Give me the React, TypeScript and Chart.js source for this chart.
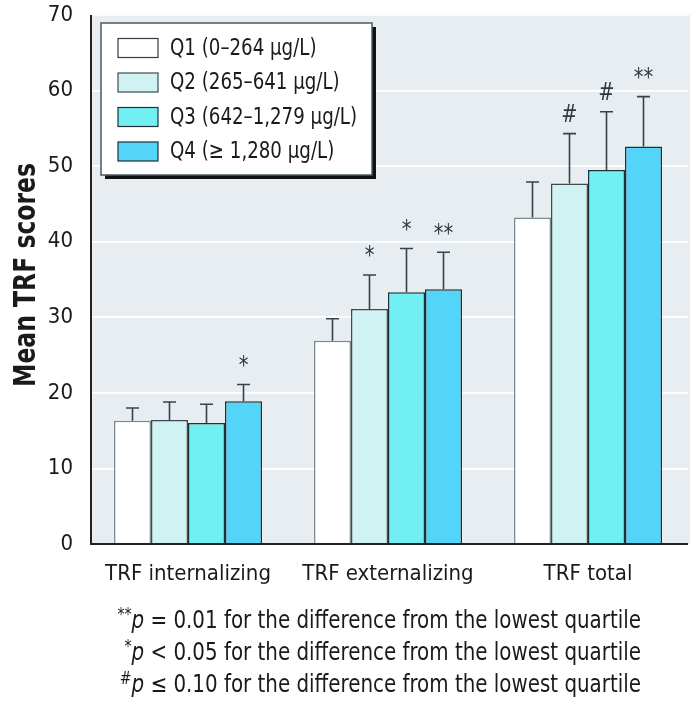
import { useEffect, useRef } from 'react';
import { Chart, registerables } from 'chart.js';

Chart.register(...registerables);

const categories = ['TRF internalizing', 'TRF externalizing', 'TRF total'];
const seriesLabels = ['Q1 (0–264 µg/L)', 'Q2 (265–641 µg/L)', 'Q3 (642–1,279 µg/L)', 'Q4 (≥ 1,280 µg/L)'];
const q1Means = [16.3, 26.9, 43.2];
const q2Means = [16.4, 31.1, 47.7];
const q3Means = [16.0, 33.3, 49.5];
const q4Means = [18.9, 33.7, 52.6];
const q1Upper = [18.0, 29.8, 47.9];
const q2Upper = [18.8, 35.6, 54.3];
const q3Upper = [18.5, 39.1, 57.2];
const q4Upper = [21.1, 38.6, 59.2];
const q1Marks = ['', '', ''];
const q2Marks = ['', '*', '#'];
const q3Marks = ['', '*', '#'];
const q4Marks = ['*', '**', '**'];
const yMin = 0;
const yMax = 70;
const yStep = 10;
const yTitle = 'Mean TRF scores';
const footSup = ['**', '*', '#'];
const footRel = [' = 0.01', ' < 0.05', ' ≤ 0.10'];
const footTail = ' for the difference from the lowest quartile';

const FONT = "'Liberation Sans Narrow', 'DejaVu Sans Condensed', 'Arial Narrow', sans-serif";
const fills = ['#ffffff', '#d0f2f2', '#72eff2', '#52d5f8'];
const borders = ['#7d8b90', '#3c4c52', '#1f3037', '#1f3037'];
const BG = '#e8edf1';
const INK = '#1a1a1a';

function squeezeText(ctx: CanvasRenderingContext2D, text: string, x: number, y: number, font: string, sx: number, align: CanvasTextAlign) {
  ctx.save();
  ctx.font = font;
  ctx.textAlign = align;
  ctx.textBaseline = 'middle';
  ctx.translate(x, y);
  ctx.scale(sx, 1);
  ctx.fillText(text, 0, 0);
  ctx.restore();
}

export default function App() {
  const ref = useRef<HTMLCanvasElement | null>(null);
  useEffect(() => {
    const canvas = ref.current;
    if (!canvas) return;
    const means = [q1Means, q2Means, q3Means, q4Means];
    const uppers = [q1Upper, q2Upper, q3Upper, q4Upper];
    const marks = [q1Marks, q2Marks, q3Marks, q4Marks];

    const plugin = {
      id: 'custom',
      beforeDraw(chart: any) {
        const { ctx, chartArea } = chart;
        ctx.save();
        ctx.fillStyle = BG;
        ctx.fillRect(91, chartArea.top, 690 - 91, chartArea.bottom - chartArea.top);
        ctx.restore();
      },
      afterDatasetsDraw(chart: any) {
        const { ctx } = chart;
        const ys = chart.scales.y;
        ctx.save();
        for (let i = 0; i < 4; i++) {
          const meta = chart.getDatasetMeta(i);
          meta.data.forEach((bar: any, j: number) => {
            const x = bar.x;
            const yb = bar.y;
            const yt = ys.getPixelForValue(uppers[i][j]);
            ctx.strokeStyle = '#34444a';
            ctx.lineWidth = 1.6;
            ctx.beginPath();
            ctx.moveTo(x, yb);
            ctx.lineTo(x, yt);
            ctx.moveTo(x - 6.5, yt);
            ctx.lineTo(x + 6.5, yt);
            ctx.stroke();
            const m = marks[i][j];
            if (m) {
              ctx.fillStyle = '#2a3a40';
              squeezeText(ctx, m, x, yt - 18, `24px ${FONT}`, 0.9, 'center');
            }
          });
        }
        const { chartArea } = chart;
        ctx.strokeStyle = '#222';
        ctx.lineWidth = 2;
        ctx.beginPath();
        ctx.moveTo(91, chartArea.top);
        ctx.lineTo(91, chartArea.bottom);
        ctx.lineTo(688, chartArea.bottom);
        ctx.stroke();
        ctx.restore();
      },
      afterDraw(chart: any) {
        const { ctx } = chart;
        ctx.save();
        // legend
        const bx = 101, by = 23, bw = 271, bh = 152;
        ctx.fillStyle = '#111';
        ctx.fillRect(bx + 4, by + 4, bw, bh);
        ctx.fillStyle = '#ffffff';
        ctx.fillRect(bx, by, bw, bh);
        ctx.strokeStyle = '#4a5a60';
        ctx.lineWidth = 1.5;
        ctx.strokeRect(bx, by, bw, bh);
        const rowY = [48, 82.5, 117, 151.5];
        for (let i = 0; i < 4; i++) {
          ctx.fillStyle = fills[i];
          ctx.fillRect(118, rowY[i] - 9.5, 40, 19);
          ctx.strokeStyle = i === 0 ? '#3a3a3a' : borders[i];
          ctx.lineWidth = 1.2;
          ctx.strokeRect(118, rowY[i] - 9.5, 40, 19);
          ctx.fillStyle = INK;
          squeezeText(ctx, seriesLabels[i], 170, rowY[i] + 1, `23px ${FONT}`, 0.88, 'left');
        }
        // y title
        ctx.save();
        ctx.translate(27, 275);
        ctx.rotate(-Math.PI / 2);
        ctx.fillStyle = INK;
        squeezeText(ctx, yTitle, 0, 0, `bold 30px ${FONT}`, 0.87, 'center');
        ctx.restore();
        // footnotes
        const right = 641;
        const sx = 0.92;
        const lineY = [622, 654, 686];
        for (let k = 0; k < 3; k++) {
          const supFont = `17px ${FONT}`;
          const pFont = `italic 24px ${FONT}`;
          const mainFont = `24px ${FONT}`;
          ctx.font = supFont;
          const w1 = ctx.measureText(footSup[k]).width * sx;
          ctx.font = pFont;
          const w2 = ctx.measureText('p').width * sx;
          ctx.font = mainFont;
          const w3 = ctx.measureText(footRel[k] + footTail).width * sx;
          let x = right - (w1 + w2 + w3);
          ctx.fillStyle = INK;
          squeezeText(ctx, footSup[k], x, lineY[k] - 6, supFont, sx, 'left');
          x += w1;
          squeezeText(ctx, 'p', x, lineY[k], pFont, sx, 'left');
          x += w2;
          squeezeText(ctx, footRel[k] + footTail, x, lineY[k], mainFont, sx, 'left');
        }
        ctx.restore();
      },
    };

    const chart = new Chart(canvas, {
      type: 'bar',
      data: {
        labels: categories,
        datasets: means.map((d, i) => ({
          label: seriesLabels[i],
          data: d,
          backgroundColor: fills[i],
          borderColor: borders[i],
          borderWidth: 1.5,
          categoryPercentage: 0.74,
          barPercentage: 1.0,
        })),
      },
      options: {
        responsive: false,
        animation: false,
        devicePixelRatio: 1,
        layout: { padding: { top: 15, right: 2, left: 0, bottom: 0 } },
        plugins: { legend: { display: false }, tooltip: { enabled: false } },
        scales: {
          x: {
            grid: { display: false, drawTicks: false },
            border: { display: false },
            ticks: { color: INK, font: { family: FONT, size: 22 }, padding: 17 },
            afterFit: (s: any) => { s.height = 163; s.paddingLeft = 0; s.paddingRight = 0; },
          },
          y: {
            min: yMin,
            max: yMax,
            grid: { color: '#ffffff', lineWidth: 1.8, drawTicks: false },
            border: { display: false },
            ticks: { stepSize: yStep, color: INK, font: { family: FONT, size: 22 }, padding: 15 },
            afterFit: (s: any) => { s.width = 88; s.paddingTop = 0; s.paddingBottom = 0; },
          },
        },
      },
      plugins: [plugin],
    });
    return () => chart.destroy();
  }, []);

  return (
    <div style={{ position: 'absolute', left: 0, top: 0, width: 690, height: 707, background: '#fff' }}>
      <canvas ref={ref} width={690} height={707} style={{ display: 'block' }} />
    </div>
  );
}
